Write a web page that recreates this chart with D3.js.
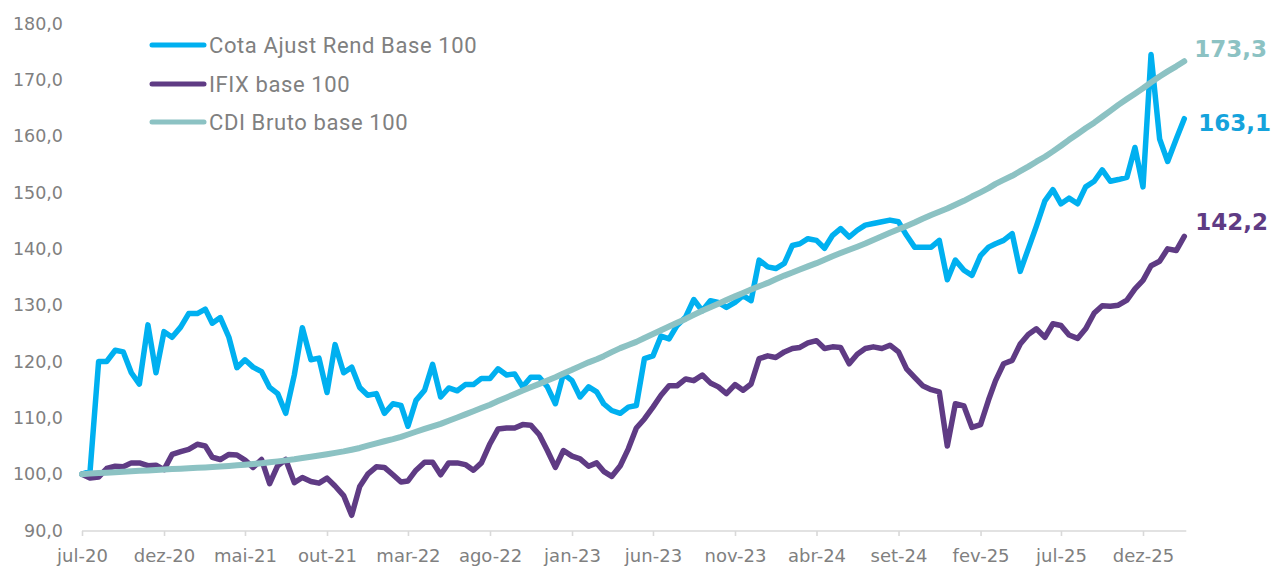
<!DOCTYPE html>
<html>
<head>
<meta charset="utf-8">
<script src="https://cdn.jsdelivr.net/npm/d3@7"></script>
<style>
  html, body { margin: 0; padding: 0; background: #ffffff; }
  svg { display: block; }
</style>
</head>
<body>
<svg id="chart" width="1272" height="566"></svg>
<script>
// ---------------- DATA ----------------
// semi-monthly observation grid: 1st and 16th of each month, Jul-2020 .. Feb-2026
const gridStart = "2020-07-01";
const gridEndExclusive = "2026-03-01";

const seriesNames = ["Cota Ajust Rend Base 100", "IFIX base 100", "CDI Bruto base 100"];

const cota = [
  100, 100.5, 120, 120, 122, 121.7, 118, 116, 126.5, 118, 125.3, 124.3,
  126.1, 128.5, 128.5, 129.3, 126.8, 127.8, 124.3, 118.9, 120.3, 119, 118.2, 115.4,
  114.3, 110.8, 117.6, 126, 120.3, 120.6, 114.5, 123, 118, 119, 115.4, 114,
  114.3, 110.8, 112.5, 112.2, 108.5, 113.1, 114.9, 119.5, 113.7, 115.3, 114.8, 115.9,
  115.9, 117, 117, 118.7, 117.6, 117.8, 115.5, 117.2, 117.2, 115.5, 112.5, 117.8,
  116.6, 113.7, 115.5, 114.6, 112.5, 111.3, 110.8, 111.9, 112.2, 120.5, 121, 124.5,
  124, 126.4, 127.9, 131, 129, 130.8, 130.5, 129.6, 130.5, 131.7, 130.8, 138,
  136.8, 136.5, 137.4, 140.6, 140.9, 141.8, 141.5, 140.1, 142.4, 143.6, 142.1, 143.3,
  144.2, 144.5, 144.8, 145.1, 144.8, 142.4, 140.3, 140.3, 140.3, 141.5, 134.5, 138,
  136.2, 135.3, 138.8, 140.3, 140.9, 141.5, 142.7, 136, 140, 144, 148.5, 150.5,
  148, 149, 148, 151, 152, 154, 152, 152.3, 152.7, 158, 151, 174.5,
  159.5, 155.5, 159.5, 163.1
];

const ifix = [
  100, 99.3, 99.5, 101, 101.4, 101.3, 102, 102, 101.5, 101.6, 100.8, 103.5,
  104, 104.4, 105.3, 105, 103, 102.6, 103.5, 103.4, 102.5, 101.2, 102.6, 98.3,
  101.5, 102.6, 98.5, 99.4, 98.7, 98.4, 99.3, 97.9, 96.2, 92.7, 97.8, 100,
  101.3, 101.2, 99.9, 98.6, 98.8, 100.7, 102.1, 102.1, 99.9, 102, 102, 101.7,
  100.7, 102, 105.4, 108, 108.2, 108.2, 108.8, 108.7, 107, 104.2, 101.2, 104.2,
  103.2, 102.7, 101.4, 102, 100.5, 99.6, 101.5, 104.5, 108.2, 109.8, 111.9, 114,
  115.7, 115.7, 116.9, 116.6, 117.6, 116.2, 115.5, 114.3, 115.9, 114.9, 116, 120.5,
  121, 120.7, 121.7, 122.3, 122.5, 123.3, 123.7, 122.3, 122.6, 122.5, 119.6, 121.3,
  122.3, 122.6, 122.3, 122.9, 121.7, 118.7, 117.2, 115.7, 115, 114.6, 105, 112.5,
  112.1, 108.3, 108.8, 113.2, 116.6, 119.6, 120.2, 123.1, 124.8, 125.8, 124.3, 126.7,
  126.4, 124.7, 124.1, 125.8, 128.6, 129.9, 129.8, 130, 130.9, 132.9, 134.4, 137,
  137.8, 140, 139.7, 142.2
];

const cdi = [
  100.00, 100.10, 100.19, 100.27, 100.35, 100.43, 100.51, 100.59, 100.67, 100.75, 100.82, 100.90,
  100.98, 101.05, 101.13, 101.20, 101.26, 101.36, 101.46, 101.57, 101.68, 101.81, 101.95, 102.11,
  102.27, 102.45, 102.64, 102.86, 103.08, 103.30, 103.53, 103.78, 104.04, 104.34, 104.65, 105.05,
  105.46, 105.84, 106.23, 106.63, 107.04, 107.53, 108.03, 108.48, 108.93, 109.49, 110.05, 110.61,
  111.17, 111.74, 112.32, 112.97, 113.63, 114.24, 114.85, 115.43, 116.02, 116.61, 117.20, 117.86,
  118.52, 119.18, 119.85, 120.40, 120.95, 121.66, 122.37, 122.93, 123.49, 124.18, 124.87, 125.54,
  126.21, 126.88, 127.56, 128.28, 129.01, 129.63, 130.26, 130.91, 131.56, 132.16, 132.77, 133.36,
  133.95, 134.60, 135.25, 135.79, 136.33, 136.89, 137.46, 138.07, 138.68, 139.25, 139.83, 140.38,
  140.94, 141.58, 142.22, 142.84, 143.46, 144.06, 144.67, 145.34, 146.01, 146.58, 147.16, 147.84,
  148.53, 149.28, 150.03, 150.77, 151.52, 152.24, 152.97, 153.78, 154.59, 155.47, 156.35, 157.30,
  158.30, 159.35, 160.40, 161.40, 162.40, 163.45, 164.50, 165.55, 166.60, 167.55, 168.50, 169.55,
  170.60, 171.50, 172.40, 173.30
];

const tickDates = ["2020-07-01","2020-12-01","2021-05-01","2021-10-01","2022-03-01","2022-08-01",
                   "2023-01-01","2023-06-01","2023-11-01","2024-04-01","2024-09-01","2025-02-01",
                   "2025-07-01","2025-12-01"];
const tickLabels = ["jul-20","dez-20","mai-21","out-21","mar-22","ago-22","jan-23","jun-23",
                    "nov-23","abr-24","set-24","fev-25","jul-25","dez-25"];
const yTicks = [90, 100, 110, 120, 130, 140, 150, 160, 170, 180];

// ---------------- STYLE ----------------
const colors = { cota: "#00b0f0", ifix: "#5f3b84", cdi: "#8cc2c3" };
const endLabelColors = { cota: "#15a3dc", ifix: "#5f3b84", cdi: "#8cc2c3" };
const gray = "#808080";

// ---------------- BUILD ----------------
const parse = d3.timeParse("%Y-%m-%d");
const months = d3.timeMonth.range(parse(gridStart), parse(gridEndExclusive));
const dates = months.flatMap(m => [m, new Date(m.getFullYear(), m.getMonth(), 16)]);

const svg = d3.select("#chart");

const x = d3.scaleTime()
  .domain([parse("2020-07-01"), parse("2025-12-01")])
  .range([82, 1143]);
const y = d3.scaleLinear().domain([90, 180]).range([530.5, 23.5]);

// x axis
const xAxisG = svg.append("g").attr("transform", "translate(0,531)");
xAxisG.call(
  d3.axisBottom(x)
    .tickValues(tickDates.map(parse))
    .tickFormat((d, i) => tickLabels[i])
    .tickSize(5)
    .tickSizeOuter(0)
);
xAxisG.select(".domain").remove();
xAxisG.append("line")
  .attr("x1", x(dates[0])).attr("x2", x(dates[dates.length - 1]) + 2)
  .attr("y1", 0).attr("y2", 0)
  .attr("stroke", "#d9d9d9").attr("stroke-width", 1.6);
xAxisG.selectAll(".tick line").attr("stroke", "#d9d9d9").attr("stroke-width", 1.6);
xAxisG.selectAll(".tick text")
  .attr("fill", gray)
  .attr("font-family", "'DejaVu Sans', sans-serif")
  .attr("font-size", 18)
  .attr("dy", null)
  .attr("y", 31);

// y axis
const fmt = d => d3.format(".1f")(d).replace(".", ",");
const yAxisG = svg.append("g").attr("transform", "translate(63,0)");
yAxisG.call(d3.axisLeft(y).tickValues(yTicks).tickFormat(fmt).tickSize(0).tickPadding(0));
yAxisG.select(".domain").remove();
yAxisG.selectAll(".tick text")
  .attr("fill", gray)
  .attr("font-family", "'DejaVu Sans', sans-serif")
  .attr("font-size", 17.5);

// lines
const line = d3.line().x((d, i) => x(dates[i])).y(d => y(d)).curve(d3.curveLinear);
const series = [
  { key: "ifix", values: ifix, width: 5.5 },
  { key: "cota", values: cota, width: 5.5 },
  { key: "cdi", values: cdi, width: 6 }
];
series.forEach(s => {
  svg.append("path")
    .datum(s.values)
    .attr("d", line)
    .attr("fill", "none")
    .attr("stroke", colors[s.key])
    .attr("stroke-width", s.width)
    .attr("stroke-linejoin", "round")
    .attr("stroke-linecap", "round");
});

// end labels
const endOffsets = { cdi: -4, cota: 12, ifix: -6 };
const endDx = { cdi: 10, cota: 14, ifix: 11 };
[["cdi", cdi], ["cota", cota], ["ifix", ifix]].forEach(([k, vals]) => {
  const last = vals[vals.length - 1];
  svg.append("text")
    .attr("x", x(dates[dates.length - 1]) + endDx[k])
    .attr("y", y(last) + endOffsets[k])
    .attr("fill", endLabelColors[k])
    .attr("font-family", "'DejaVu Sans', sans-serif")
    .attr("font-weight", "bold")
    .attr("font-size", 23)
    .text(fmt(last));
});

// legend
const legendKeys = ["cota", "ifix", "cdi"];
const legendY = [45, 84, 122];
legendKeys.forEach((k, i) => {
  const g = svg.append("g").attr("transform", `translate(0,${legendY[i]})`);
  g.append("line")
    .attr("x1", 152).attr("x2", 204).attr("y1", 0).attr("y2", 0)
    .attr("stroke", colors[k]).attr("stroke-width", 5).attr("stroke-linecap", "round");
  g.append("text")
    .attr("x", 209).attr("y", 0).attr("dy", "0.35em")
    .attr("fill", gray)
    .attr("font-family", "Roboto, sans-serif")
    .attr("font-size", 22)
    .attr("letter-spacing", 0.6)
    .text(seriesNames[i]);
});
</script>
</body>
</html>
